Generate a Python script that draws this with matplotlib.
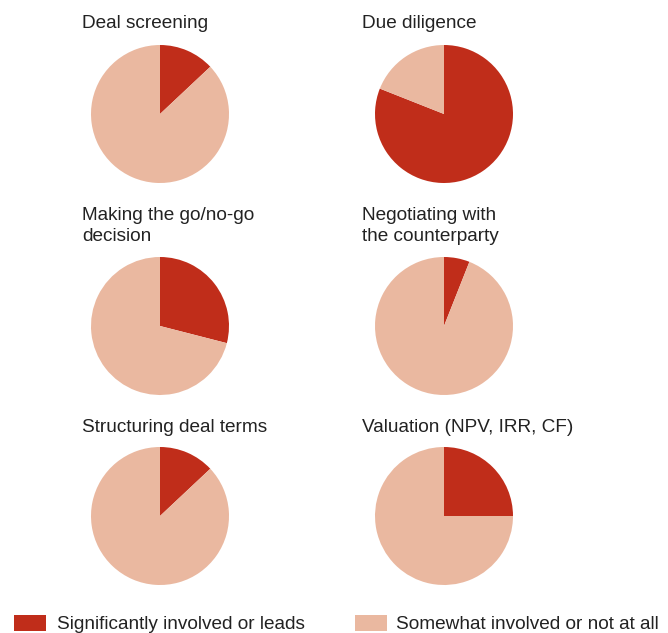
import matplotlib
matplotlib.use("Agg")
import matplotlib.pyplot as plt
from matplotlib.patches import Rectangle

plt.rcParams["font.family"] = ["Liberation Sans", "DejaVu Sans"]

# share (%) that is significantly involved or leads
titles = ["Deal screening", "Due diligence",
          "Making the go/no-go\ndecision", "Negotiating with\nthe counterparty",
          "Structuring deal terms", "Valuation (NPV, IRR, CF)"]
significant = [13, 81, 29, 6, 13, 25]
legend_labels = ["Significantly involved or leads", "Somewhat involved or not at all"]
colors = ["#C02D1A", "#EAB8A0"]

W, H = 668, 633
fig = plt.figure(figsize=(W / 100, H / 100), dpi=100)

centers_x = [160, 444]
centers_y = [114, 326, 516]
title_top = [14.5, 207, 418.5]
title_x = [82.5, 362.5]
R = 69
FS = 13.7

for i, (title, val) in enumerate(zip(titles, significant)):
    row, col = divmod(i, 2)
    cx, cy = centers_x[col], centers_y[row]
    ax = fig.add_axes([(cx - R) / W, 1 - (cy + R) / H, 2 * R / W, 2 * R / H])
    ax.pie([val, 100 - val], colors=colors, startangle=90, counterclock=False,
           radius=1, wedgeprops=dict(linewidth=0))
    ax.set_xlim(-1, 1)
    ax.set_ylim(-1, 1)
    ax.set_aspect("equal")
    ax.axis("off")
    fig.text(title_x[col] / W, 1 - title_top[row] / H, title, fontsize=FS,
             ha="left", va="top", color="#222222", linespacing=1.33)

# legend drawn along the bottom
patch_x = [14, 355]
text_x = [57, 396]
for lbl, c, px, tx in zip(legend_labels, colors, patch_x, text_x):
    fig.patches.append(Rectangle((px / W, 1 - 631 / H), 32 / W, 16 / H,
                                 transform=fig.transFigure, color=c, lw=0))
    fig.text(tx / W, 1 - 629 / H, lbl, fontsize=FS, ha="left", va="baseline",
             color="#222222")

fig.savefig("out.png", dpi=100)
